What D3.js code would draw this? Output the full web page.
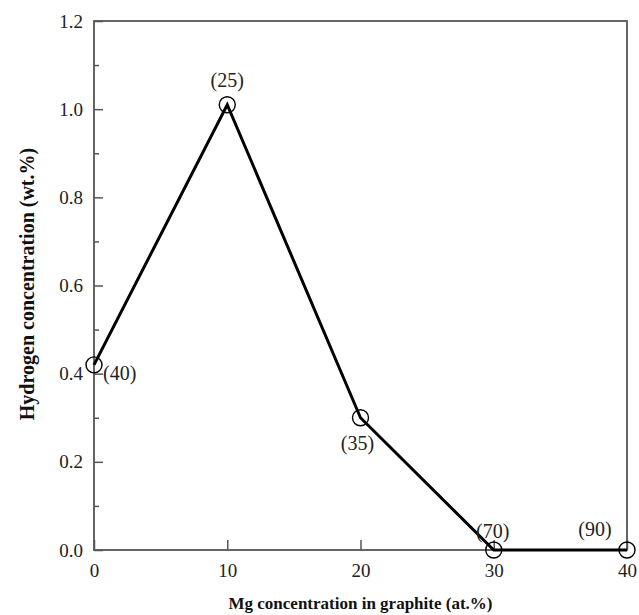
<!DOCTYPE html>
<html>
<head>
<meta charset="utf-8">
<script src="https://cdn.jsdelivr.net/npm/d3@7"></script>
<style>
  body { margin: 0; background: #fff; }
  text { font-family: "Liberation Serif", "Times New Roman", serif; }
</style>
</head>
<body>
<div id="chart"></div>
<script>
// Data
const mgConc = [0, 10, 20, 30, 40];
const hConc = [0.42, 1.01, 0.30, 0.0, 0.0];
const pointLabels = ["(40)", "(25)", "(35)", "(70)", "(90)"];
const xTicks = [0, 10, 20, 30, 40];
const yTicks = [0.0, 0.2, 0.4, 0.6, 0.8, 1.0, 1.2];
const yMinorTicks = [0.1, 0.3, 0.5, 0.7, 0.9, 1.1];

const totalW = 639, totalH = 615;
const margin = { top: 21, right: 12, bottom: 65, left: 94 };
const width = totalW - margin.left - margin.right;
const height = totalH - margin.top - margin.bottom;

const svg = d3.select("#chart").append("svg")
  .attr("width", totalW)
  .attr("height", totalH)
  .append("g")
  .attr("transform", `translate(${margin.left},${margin.top})`);

const x = d3.scaleLinear().domain([0, 40]).range([0, width]);
const y = d3.scaleLinear().domain([0, 1.2]).range([height, 0]);

const axisColor = "#555";

// frame
svg.append("rect")
  .attr("x", 0).attr("y", 0)
  .attr("width", width).attr("height", height)
  .attr("fill", "none")
  .attr("stroke", axisColor)
  .attr("stroke-width", 1.8);

// x axis (ticks point inward)
const xAxis = svg.append("g")
  .attr("transform", `translate(0,${height})`)
  .call(d3.axisBottom(x).tickValues(xTicks).tickSizeInner(-10).tickSizeOuter(0).tickPadding(14).tickFormat(d3.format("d")));
xAxis.select(".domain").remove();
xAxis.selectAll("line").attr("stroke", axisColor).attr("stroke-width", 1.5);
xAxis.selectAll("text").style("font-size", "19px").attr("fill", "#222")
  .style("font-family", "Liberation Serif, serif");

// y axis major
const yAxis = svg.append("g")
  .call(d3.axisLeft(y).tickValues(yTicks).tickSizeInner(-9).tickSizeOuter(0).tickPadding(11).tickFormat(d3.format(".1f")));
yAxis.select(".domain").remove();
yAxis.selectAll("line").attr("stroke", axisColor).attr("stroke-width", 1.5);
yAxis.selectAll("text").style("font-size", "19px").attr("fill", "#222")
  .style("font-family", "Liberation Serif, serif");

// y axis minor
const yMinor = svg.append("g")
  .call(d3.axisLeft(y).tickValues(yMinorTicks).tickSizeInner(-5).tickSizeOuter(0).tickFormat(""));
yMinor.select(".domain").remove();
yMinor.selectAll("line").attr("stroke", axisColor).attr("stroke-width", 1.5);

const pts = mgConc.map((m, i) => ({ x: m, y: hConc[i], label: pointLabels[i] }));

// line
svg.append("path")
  .datum(pts)
  .attr("fill", "none")
  .attr("stroke", "#000")
  .attr("stroke-width", 3)
  .attr("d", d3.line().x(d => x(d.x)).y(d => y(d.y)));

// markers
svg.selectAll(".pt")
  .data(pts)
  .enter().append("circle")
  .attr("class", "pt")
  .attr("cx", d => x(d.x))
  .attr("cy", d => y(d.y))
  .attr("r", 8)
  .attr("fill", "none")
  .attr("stroke", "#000")
  .attr("stroke-width", 1.4);

// point labels
const labelOffsets = [
  { dx: 9, dy: 15, anchor: "start" },
  { dx: 0, dy: -18, anchor: "middle" },
  { dx: -3, dy: 32, anchor: "middle" },
  { dx: -1, dy: -12, anchor: "middle" },
  { dx: -32, dy: -14, anchor: "middle" }
];
svg.selectAll(".lbl")
  .data(pts)
  .enter().append("text")
  .attr("class", "lbl")
  .attr("x", (d, i) => x(d.x) + labelOffsets[i].dx)
  .attr("y", (d, i) => y(d.y) + labelOffsets[i].dy)
  .attr("text-anchor", (d, i) => labelOffsets[i].anchor)
  .style("font-size", "20px")
  .attr("fill", "#222")
  .text(d => d.label);

// axis titles
svg.append("text")
  .attr("x", width / 2)
  .attr("y", height + 59)
  .attr("text-anchor", "middle")
  .style("font-size", "17px")
  .attr("font-weight", "bold")
  .attr("fill", "#111")
  .text("Mg concentration in graphite (at.%)");

svg.append("text")
  .attr("transform", "rotate(-90)")
  .attr("x", -263)
  .attr("y", -60)
  .attr("text-anchor", "middle")
  .style("font-size", "20px")
  .attr("font-weight", "bold")
  .attr("fill", "#111")
  .text("Hydrogen concentration (wt.%)");
</script>
</body>
</html>
